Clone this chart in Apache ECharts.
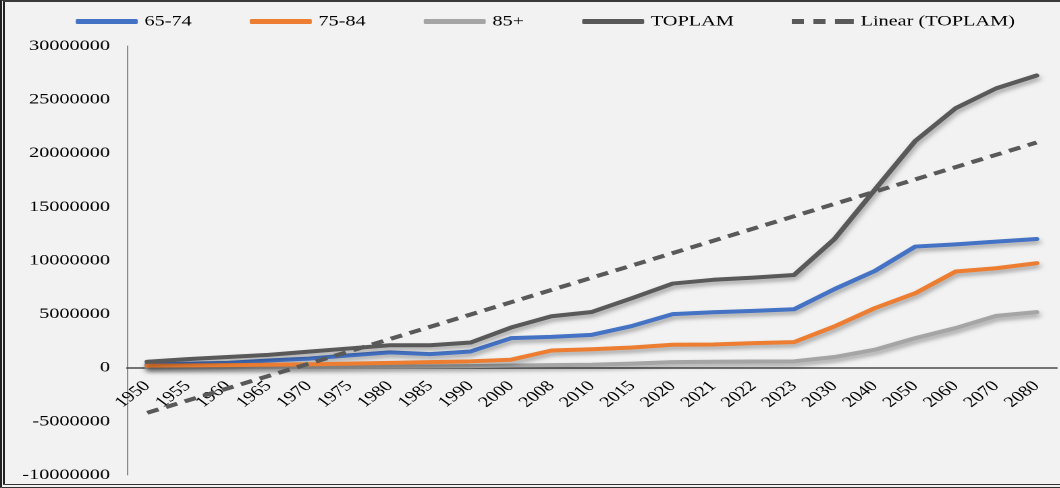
<!DOCTYPE html>
<html>
<head>
<meta charset="utf-8">
<script src="https://cdn.jsdelivr.net/npm/echarts@6/dist/echarts.min.js"></script>
<style>
  html, body { margin: 0; padding: 0; background: #f2f2f2; }
  #wrap { position: relative; width: 1060px; height: 488px; overflow: hidden; background: #f2f2f2; }
  #chart { position: absolute; left: 0; top: 0; height: 488px; transform-origin: 0 0; }
  #frame { position: absolute; left: 0; top: 0; width: 1060px; height: 488px; box-sizing: border-box;
           border-top: 2px solid #3a3a3a; border-left: 5px double #222; border-bottom: 4px double #333;
           pointer-events: none; }
</style>
</head>
<body>
<div id="wrap"><div id="chart"></div><div id="frame"></div></div>
<script>
const categories = ['1950','1955','1960','1965','1970','1975','1980','1985','1990','2000','2008','2010','2015','2020','2021','2022','2023','2030','2040','2050','2060','2070','2080'];
const age6574 = [300000,380000,450000,680000,850000,1150000,1430000,1270000,1520000,2760000,2880000,3070000,3900000,5000000,5180000,5300000,5450000,7330000,9030000,11300000,11500000,11760000,12000000];
const age7584 = [200000,220000,250000,280000,320000,380000,450000,520000,600000,750000,1610000,1720000,1890000,2140000,2170000,2300000,2390000,3850000,5560000,6950000,8970000,9280000,9750000];
const age85plus = [30000,40000,50000,60000,70000,80000,100000,130000,150000,200000,250000,280000,380000,530000,560000,580000,600000,1000000,1680000,2760000,3700000,4840000,5190000];
const toplam = [560000,800000,1000000,1200000,1500000,1800000,2100000,2100000,2350000,3750000,4800000,5200000,6500000,7850000,8200000,8400000,8650000,12000000,16600000,21150000,24200000,26050000,27250000];
// Linear trendline (TOPLAM): endpoints
const trendStart = -4200000;
const trendEnd = 21000000;
const yTicks = { min: -10000000, max: 30000000, interval: 5000000 };

const trend = categories.map((c, i) => i === 0 ? trendStart : (i === categories.length - 1 ? trendEnd : null));

// The reference is a horizontally stretched chart image: render narrower, then stretch.
const S = 1.35;
const W = 1060 / S;
const H = 488, gridTop = 46, gridBottom = 13;
const dom = document.getElementById('chart');
dom.style.width = W + 'px';
dom.style.transform = 'scaleX(' + S + ')';

// place the category axis at the zero line of the value axis
const plotH = H - gridTop - gridBottom;
const zeroFromBottom = plotH * (0 - yTicks.min) / (yTicks.max - yTicks.min);

const font = 'Liberation Serif';
const shadow = { shadowColor: 'rgba(0,0,0,0.35)', shadowBlur: 4, shadowOffsetX: 1, shadowOffsetY: 3 };
function lineSeries(name, data, color, z) {
  return {
    name, type: 'line', data, symbol: 'none', z,
    lineStyle: Object.assign({ color, width: 4, cap: 'round', join: 'round' }, shadow),
    itemStyle: { color }
  };
}

const chart = echarts.init(dom, null, { devicePixelRatio: 2 });
chart.setOption({
  backgroundColor: '#f2f2f2',
  animation: false,
  legend: {
    left: 69 / S, top: 9, itemWidth: 62 / S, itemHeight: 5, itemGap: 58 / S,
    textStyle: { fontFamily: font, fontSize: 15, color: '#000' },
    data: [
      { name: '65-74', icon: 'roundRect' },
      { name: '75-84', icon: 'roundRect' },
      { name: '85+', icon: 'roundRect' },
      { name: 'TOPLAM', icon: 'roundRect' },
      { name: 'Linear (TOPLAM)', icon: 'path://M0,0h9v5h-9z M16,0h9v5h-9z M32,0h14v5h-14z' }
    ]
  },
  grid: { left: 127 / S, right: 3 / S, top: gridTop, bottom: gridBottom, containLabel: false, outerBoundsMode: 'none' },
  xAxis: {
    type: 'category', data: categories, boundaryGap: true,
    position: 'bottom', offset: -zeroFromBottom,
    axisLine: { onZero: false, lineStyle: { color: '#4a4a4a', width: 1.5 } },
    axisTick: { show: false },
    axisLabel: { rotate: 45, margin: 16, interval: 0, fontFamily: font, fontSize: 15, color: '#000' }
  },
  yAxis: {
    type: 'value', min: yTicks.min, max: yTicks.max, interval: yTicks.interval,
    axisLine: { show: true, lineStyle: { color: '#8a8a8a', width: 1 } },
    axisTick: { show: false },
    splitLine: { show: false },
    axisLabel: { margin: 17 / S, fontFamily: font, fontSize: 15, color: '#000', formatter: v => String(v) }
  },
  series: [
    lineSeries('65-74', age6574, '#4472c4', 3),
    lineSeries('75-84', age7584, '#ed7d31', 3),
    lineSeries('85+', age85plus, '#a5a5a5', 2),
    lineSeries('TOPLAM', toplam, '#595959', 4),
    {
      name: 'Linear (TOPLAM)', type: 'line', data: trend, connectNulls: true, symbol: 'none', z: 5,
      lineStyle: { color: '#595959', width: 4, type: [9, 6], cap: 'butt' },
      itemStyle: { color: '#595959' }
    }
  ]
});
</script>
</body>
</html>
